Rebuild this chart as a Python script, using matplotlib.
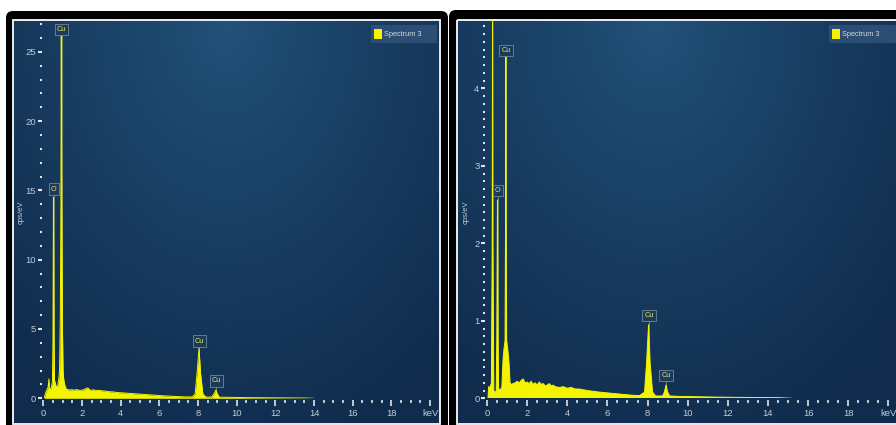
import numpy as np
import matplotlib
matplotlib.use('Agg')
from matplotlib import pyplot as plt
from matplotlib.patches import FancyBboxPatch, Rectangle

plt.rcParams['font.family'] = ['Liberation Sans', 'DejaVu Sans']

W, H = 896, 425

# left panel spectrum (keV, cps/eV)
energy_a = [0.05, 0.10, 0.18, 0.25, 0.29, 0.32, 0.40, 0.47, 0.50, 0.525, 0.55, 0.58,
            0.66, 0.74, 0.80, 0.84, 0.88, 0.91, 0.93, 0.95, 0.98, 1.02, 1.06, 1.12,
            1.20, 1.35, 1.5, 1.6, 1.7, 1.8, 1.9, 2.0, 2.1, 2.2, 2.3, 2.4, 2.5, 2.6,
            2.7, 2.8, 3.0, 3.2, 3.4, 3.6, 3.8, 4.0, 4.3, 4.6, 5.0, 5.4, 5.8, 6.2,
            6.6, 7.0, 7.4, 7.7, 7.85, 7.95, 8.05, 8.13, 8.25, 8.4, 8.7, 8.82, 8.92,
            9.0, 9.1, 9.6, 10.5, 11.5, 12.5, 13.5, 14.0]
counts_a = [0.0, 0.3, 0.6, 0.8, 1.4, 0.7, 0.7, 1.2, 4.0, 14.5, 4.0, 1.3,
            0.85, 0.9, 1.4, 2.0, 6.0, 14.0, 26.5, 14.0, 6.0, 2.0, 1.3, 0.9,
            0.65, 0.6, 0.62, 0.58, 0.63, 0.6, 0.55, 0.6, 0.62, 0.7, 0.75, 0.6, 0.58, 0.62,
            0.55, 0.58, 0.55, 0.52, 0.48, 0.46, 0.42, 0.40, 0.37, 0.34, 0.30, 0.26, 0.22, 0.18,
            0.15, 0.12, 0.10, 0.10, 0.3, 1.8, 3.6, 1.8, 0.3, 0.09, 0.09, 0.3, 0.6,
            0.3, 0.08, 0.07, 0.05, 0.04, 0.03, 0.02, 0.0]

# right panel spectrum (keV, cps/eV)
energy_b = [0.05, 0.08, 0.15, 0.22, 0.26, 0.28, 0.30, 0.34, 0.40, 0.46, 0.49, 0.52, 0.55,
            0.58, 0.66, 0.74, 0.80, 0.84, 0.90, 0.92, 0.94, 0.96, 0.98, 1.04, 1.10, 1.15,
            1.2, 1.3, 1.4, 1.5, 1.6, 1.7, 1.8, 1.9, 2.0, 2.1, 2.2, 2.3, 2.4, 2.5, 2.6,
            2.7, 2.8, 2.9, 3.0, 3.1, 3.2, 3.3, 3.4, 3.6, 3.8, 4.0, 4.2, 4.4, 4.6, 4.8,
            5.0, 5.3, 5.6, 6.0, 6.4, 6.8, 7.2, 7.6, 7.85, 7.95, 8.05, 8.13, 8.25, 8.4,
            8.75, 8.84, 8.92, 9.0, 9.1, 9.5, 10.5, 11.5, 12.5, 13.5, 14.5, 15.2]
counts_b = [0.0, 0.15, 0.14, 0.2, 2.0, 6.0, 2.0, 0.1, 0.07, 0.1, 0.8, 2.56, 0.8,
            0.12, 0.11, 0.14, 0.5, 0.62, 0.75, 2.0, 4.41, 2.0, 0.75, 0.62, 0.45, 0.2,
            0.18, 0.19, 0.2, 0.22, 0.2, 0.23, 0.25, 0.2, 0.21, 0.19, 0.22, 0.18, 0.2, 0.17, 0.21,
            0.18, 0.19, 0.16, 0.17, 0.19, 0.16, 0.17, 0.15, 0.14, 0.15, 0.13, 0.14, 0.12, 0.12, 0.11,
            0.10, 0.09, 0.08, 0.07, 0.06, 0.05, 0.04, 0.035, 0.08, 0.45, 0.95, 0.45, 0.08, 0.03,
            0.03, 0.08, 0.17, 0.08, 0.03, 0.025, 0.02, 0.015, 0.012, 0.01, 0.008, 0.0]

peak_names = ['Cu', 'O', 'Cu', 'Cu']
peak_energy_a = [0.95, 0.55, 8.07, 8.95]
peak_label_y_a = [26.6, 15.1, 4.13, 1.25]
peak_energy_b = [0.95, 0.53, 8.07, 8.93]
peak_label_y_b = [4.49, 2.68, 1.07, 0.29]

x_ticks = [0, 2, 4, 6, 8, 10, 12, 14, 16, 18, 20]
x_tick_labels = ['0', '2', '4', '6', '8', '10', '12', '14', '16', '18', 'keV']
y_ticks_a = [0, 5, 10, 15, 20, 25]
y_ticks_b = [0, 1, 2, 3, 4]
legend_label = 'Spectrum 3'

YELLOW = '#f4f400'
TICK_C = '#dfe5ea'
LABEL_C = '#c3ccd5'


def gradient(w, h, cx):
  xx, yy = np.meshgrid(np.linspace(0, 1, w), np.linspace(0, 1, h))
  d = np.sqrt(((xx - cx) / 0.75) ** 2 + (yy / 1.1) ** 2)
  t = np.clip(d, 0, 1) ** 0.9
  light = np.array([34, 82, 122]) / 255
  dark = np.array([16, 44, 77]) / 255
  return light * (1 - t[..., None]) + dark * t[..., None]


fig = plt.figure(figsize=(W / 100, H / 100), dpi=100)
fig.patch.set_facecolor('white')

bg = fig.add_axes([0, 0, 1, 1])
bg.set_xlim(0, W)
bg.set_ylim(H, 0)
bg.axis('off')

# frames
bg.add_patch(FancyBboxPatch((6, 11), 442, 430, boxstyle='round,pad=0,rounding_size=7', fc='black', ec='none'))
bg.add_patch(FancyBboxPatch((449, 10), 460, 430, boxstyle='round,pad=0,rounding_size=7', fc='black', ec='none'))
bg.imshow(gradient(200, 200, 0.5), extent=(14, 439, 423, 20), aspect='auto', zorder=2)
bg.imshow(gradient(200, 200, 0.45), extent=(458, 896, 423, 20), aspect='auto', zorder=2)
bg.add_patch(Rectangle((13, 19.5), 427, 404, fill=False, ec='white', lw=1.3, zorder=3))
bg.add_patch(Rectangle((457, 19.5), 450, 404, fill=False, ec='white', lw=1.3, zorder=3))

# y labels and legends
for lx, (l0, l1) in [(20.7, (370.7, 437)), (466, (828.7, 900))]:
  bg.text(lx, 212, 'cps/eV', rotation=90, ha='center', va='center', fontsize=5.5, color=LABEL_C, zorder=4)
  bg.add_patch(Rectangle((l0, 24.5), l1 - l0, 18.5, fc='#2b4e72', ec='none', zorder=4))
  bg.add_patch(Rectangle((l0 + 3.3, 29), 8, 9.5, fc=YELLOW, ec='none', zorder=5))
  bg.text(l0 + 13.5, 34, legend_label, ha='left', va='center', fontsize=5.3, color='#d3d9df', zorder=5)


def panel(rect, energy, counts, ymax, yticks, yminor, label_x, label_y):
  ax = fig.add_axes(rect)
  ax.patch.set_alpha(0)
  for s in ax.spines.values():
    s.set_visible(False)
  ax.spines['bottom'].set_position(('outward', 1.5))
  ax.spines['left'].set_position(('outward', 1.2))

  for e, y in zip(label_x, label_y):
    ax.plot([e, e], [0, y], color='#8c9860', lw=0.6, zorder=1)
  ax.fill_between(energy, counts, color=YELLOW, lw=0, zorder=2)
  ax.plot(energy, counts, color=YELLOW, lw=0.7, zorder=2)
  for name, e, y in zip(peak_names, label_x, label_y):
    ax.text(e, y, name, ha='center', va='center', fontsize=5.2, color='#e4e46a', zorder=3,
            bbox=dict(boxstyle='square,pad=0.3', fc='#1c3a5a', ec='#6e879f', lw=0.6))

  ax.set_ylim(0, ymax)
  ax.set_xticks(x_ticks)
  ax.set_xticklabels(x_tick_labels)
  ax.set_xticks(np.arange(0, 20.01, 0.5), minor=True)
  ax.set_yticks(yticks)
  ax.set_yticks(yminor, minor=True)
  ax.tick_params(axis='x', which='major', length=4.3, width=1.2, color=TICK_C,
                 labelcolor=LABEL_C, labelsize=6.8, pad=2.0)
  ax.tick_params(axis='x', which='minor', length=2.2, width=1.2, color=TICK_C)
  ax.tick_params(axis='y', which='major', length=3.2, width=1.5, color=TICK_C,
                 labelcolor=LABEL_C, labelsize=6.8, pad=1)
  ax.tick_params(axis='y', which='minor', length=1.3, width=1.5, color=TICK_C)
  return ax


# left panel: x0 at 43.3px, 19.34 px/keV; y0 at 398.3px, 13.86 px/unit
rect_a = [43.3 / W, 1 - 398.3 / H, (439 - 43.3) / W, (398.3 - 20) / H]
ax1 = panel(rect_a, energy_a, counts_a, (398.3 - 20) / 13.86, y_ticks_a,
            np.arange(0, 27.3, 1), peak_energy_a, peak_label_y_a)
ax1.set_xlim(0, (439 - 43.3) / 19.34)

# right panel: x0 at 487px, 20.07 px/keV; y0 at 398.3px, 77.5 px/unit
rect_b = [487 / W, 1 - 398.3 / H, (896 - 487) / W, (398.3 - 20) / H]
ax2 = panel(rect_b, energy_b, counts_b, (398.3 - 20) / 77.5, y_ticks_b,
            np.arange(0, 4.88, 0.1), peak_energy_b, peak_label_y_b)
ax2.set_xlim(0, (896 - 487) / 20.07)

plt.savefig('out.png', dpi=100)
